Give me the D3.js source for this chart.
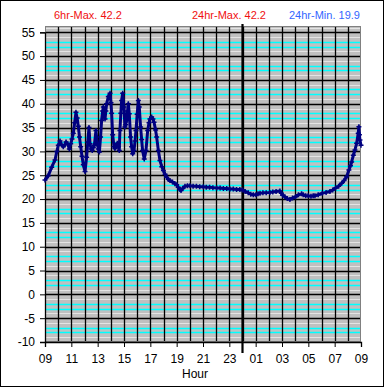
<!DOCTYPE html>
<html lang="en">
<head>
  <meta charset="UTF-8">
  <title>24 Hour Temperature</title>
  <style>
    body {
      margin: 0;
      background: #fff;
      font-family: Arial, "Liberation Sans", sans-serif;
    }
    svg {
      display: block;
    }
  </style>
  <script src="https://d3js.org/d3.v7.min.js"></script>
</head>
<body>

<svg width="385" height="388"></svg>

<script>
  // hours since 09:00 and the reading at that moment
  const hoursFromStart = [
    0.00, 0.25, 0.51, 0.76, 0.90, 1.01, 1.14, 1.26, 1.39, 1.50, 1.60, 1.73, 1.85, 1.95,
    2.05, 2.15, 2.25, 2.35, 2.44, 2.53, 2.62, 2.71, 2.81, 2.91, 3.04, 3.16, 3.25, 3.34,
    3.42, 3.50, 3.59, 3.67, 3.75, 3.87, 3.97, 4.05, 4.13, 4.22, 4.30, 4.38, 4.43, 4.50,
    4.56, 4.62, 4.68, 4.81, 4.94, 5.01, 5.06, 5.14, 5.24, 5.31, 5.40, 5.49, 5.57, 5.64,
    5.69, 5.76, 5.82, 5.90, 6.00, 6.07, 6.13, 6.20, 6.27, 6.33, 6.40, 6.50, 6.58, 6.66,
    6.76, 6.84, 6.91, 7.00, 7.09, 7.16, 7.26, 7.34, 7.41, 7.54, 7.67, 7.80, 7.90, 7.97,
    8.10, 8.20, 8.28, 8.40, 8.48, 8.61, 8.73, 8.87, 8.99, 9.12, 9.24, 9.37, 9.49, 9.68,
    9.87, 10.00, 10.12, 10.25, 10.33, 10.45, 10.63, 10.82, 11.01, 11.25, 11.50, 11.75,
    12.02, 12.25, 12.50, 12.75, 13.04, 13.30, 13.55, 13.80, 14.05, 14.30, 14.55, 14.80,
    15.01, 15.20, 15.44, 15.63, 15.82, 16.02, 16.18, 16.33, 16.55, 16.80, 17.08, 17.30,
    17.55, 17.84, 17.95, 18.05, 18.22, 18.40, 18.60, 18.80, 19.03, 19.25, 19.49, 19.61,
    19.80, 19.99, 20.20, 20.37, 20.50, 20.75, 21.06, 21.35, 21.64, 21.85, 22.07, 22.30,
    22.53, 22.72, 22.91, 23.08, 23.20, 23.29, 23.42, 23.54, 23.67, 23.79, 23.84, 23.88,
    23.92, 24.00
  ];
  const temperature = [
    24.0, 24.9, 26.7, 28.2, 30.0, 31.3, 32.2, 31.4, 31.0, 31.4, 32.0, 31.5, 30.5, 31.6,
    32.6, 33.8, 36.0, 38.2, 37.0, 35.3, 33.0, 31.0, 29.0, 27.2, 25.8, 28.8, 32.0, 35.0,
    31.6, 30.5, 30.2, 30.8, 31.3, 34.4, 31.6, 30.5, 29.9, 33.0, 36.5, 38.5, 39.3, 38.0,
    36.8, 38.5, 40.0, 41.5, 42.2, 40.2, 38.0, 33.5, 31.0, 30.6, 31.2, 31.7, 31.0, 30.2,
    34.4, 38.0, 40.7, 42.2, 39.3, 35.1, 35.6, 36.5, 38.5, 40.0, 37.9, 33.0, 31.0, 29.5,
    30.2, 32.2, 34.4, 37.8, 40.7, 39.3, 35.1, 32.5, 30.2, 28.4, 30.2, 34.4, 36.0, 36.8,
    37.2, 36.8, 36.1, 34.5, 33.0, 30.2, 28.1, 26.8, 26.0, 25.2, 24.6, 24.1, 23.9, 23.6,
    23.2, 23.0, 22.5, 22.0, 21.8, 22.2, 22.7, 22.8, 22.8, 22.7, 22.7, 22.6,
    22.6, 22.5, 22.5, 22.4, 22.3, 22.3, 22.2, 22.2, 22.1, 22.1, 22.0, 22.0,
    21.9, 21.6, 21.3, 21.0, 20.9, 20.9, 21.1, 21.2, 21.3, 21.3, 21.4, 21.5,
    21.6, 21.7, 21.2, 20.8, 20.5, 20.1, 19.9, 20.2, 20.5, 20.9, 21.1, 20.9,
    20.7, 20.7, 20.6, 20.7, 20.7, 20.9, 21.2, 21.4, 21.6, 21.9, 22.3, 22.7,
    23.3, 23.9, 24.7, 26.1, 27.0, 27.8, 29.2, 30.3, 31.7, 33.8, 35.2, 33.5,
    32.4, 31.3
  ];

  const hourTicks = [0, 2, 4, 6, 8, 10, 12, 14, 16, 18, 20, 22, 24];
  const hourLabels = ["09", "11", "13", "15", "17", "19", "21", "23", "01", "03", "05", "07", "09"];
  const yTicks = [-10, -5, 0, 5, 10, 15, 20, 25, 30, 35, 40, 45, 50, 55];
  const midnight = 15;

  const headers = [
    { text: "6hr-Max. 42.2", color: "#f01010", x: 54 },
    { text: "24hr-Max. 42.2", color: "#f01010", x: 192 },
    { text: "24hr-Min. 19.9", color: "#3366ff", x: 289 }
  ];

  const svg = d3.select("svg"),
        width = +svg.attr("width"),
        height = +svg.attr("height");

  const plot = { left: 45, right: 361, top: 26, bottom: 342 };

  const x = d3.scaleLinear().domain([0, 24]).range([plot.left, plot.right]);
  const y = d3.scaleLinear().domain([-10, 55]).range([plot.bottom, 32.3]);

  // outer frame
  svg.append("rect")
    .attr("x", 0.5).attr("y", 0.5)
    .attr("width", width - 2).attr("height", height - 2)
    .attr("fill", "#fff")
    .attr("stroke", "#000");

  // plot background
  svg.append("rect")
    .attr("x", plot.left).attr("y", plot.top)
    .attr("width", plot.right - plot.left).attr("height", plot.bottom - plot.top)
    .attr("fill", "#c0c0c0");

  // minor horizontal lines, one per unit (pattern: light, cyan, cyan, light)
  const grid = svg.append("g");
  for (let v = -9; v <= 56; v++) {
    const m = ((v % 5) + 5) % 5;
    if (m === 0) continue;
    const cyan = (m === 2 || m === 3);
    if (y(v) < plot.top) continue;
    grid.append("line")
      .attr("x1", plot.left).attr("x2", plot.right)
      .attr("y1", Math.round(y(v)) + 0.5).attr("y2", Math.round(y(v)) + 0.5)
      .attr("stroke", cyan ? "#00ffff" : "#e4e4e4")
      .attr("stroke-width", cyan ? 1.6 : 1);
  }

  // major horizontal lines
  grid.selectAll(".hmajor")
    .data(yTicks.slice(1))
    .enter().append("line")
      .attr("x1", plot.left).attr("x2", plot.right)
      .attr("y1", d => Math.round(y(d)) + 0.5).attr("y2", d => Math.round(y(d)) + 0.5)
      .attr("stroke", "#000")
      .attr("stroke-width", 1.3);

  // vertical hour lines
  grid.selectAll(".vline")
    .data(d3.range(1, 24))
    .enter().append("line")
      .attr("x1", d => Math.round(x(d)) + 0.5).attr("x2", d => Math.round(x(d)) + 0.5)
      .attr("y1", plot.top).attr("y2", plot.bottom)
      .attr("stroke", "#000")
      .attr("stroke-width", 1.3);

  // plot border
  svg.append("rect")
    .attr("x", plot.left + 0.5).attr("y", plot.top + 0.5)
    .attr("width", plot.right - plot.left - 1).attr("height", plot.bottom - plot.top - 1)
    .attr("fill", "none")
    .attr("stroke", "#808080");

  // axes
  const yAxis = d3.axisLeft(y).tickValues(yTicks).tickSize(5).tickPadding(5).tickFormat(d => d);
  svg.append("g")
    .attr("transform", `translate(${plot.left},0)`)
    .call(yAxis)
    .call(g => g.select(".domain").attr("stroke-width", 1.3))
    .call(g => g.selectAll("text").attr("font-size", 12).attr("font-family", "Arial, sans-serif").attr("fill", "#000"));

  const xAxis = d3.axisBottom(x).tickValues(hourTicks).tickSize(5).tickPadding(7)
    .tickFormat((d, i) => hourLabels[i]);
  svg.append("g")
    .attr("transform", `translate(0,${plot.bottom})`)
    .call(xAxis)
    .call(g => g.select(".domain").attr("stroke-width", 1.3))
    .call(g => g.selectAll("text").attr("font-size", 12).attr("font-family", "Arial, sans-serif").attr("fill", "#000"));

  svg.append("text")
    .attr("x", 195).attr("y", 378)
    .attr("text-anchor", "middle")
    .attr("font-size", 12)
    .text("Hour");

  // midnight marker
  svg.append("line")
    .attr("x1", x(midnight)).attr("x2", x(midnight))
    .attr("y1", 24).attr("y2", 353)
    .attr("stroke", "#000")
    .attr("stroke-width", 2.2);

  // series
  const points = hoursFromStart.map((h, i) => ({ h: h, v: temperature[i] }));

  const line = d3.line()
    .x(d => x(d.h))
    .y(d => y(d.v));

  svg.append("path")
    .datum(points)
    .attr("d", line)
    .attr("fill", "none")
    .attr("stroke", "#000080")
    .attr("stroke-width", 3)
    .attr("stroke-linejoin", "round");

  svg.append("g")
    .selectAll("path")
    .data(points)
    .enter().append("path")
      .attr("transform", d => `translate(${x(d.h)},${y(d.v)})`)
      .attr("d", "M-2.5,0H2.5M0,-2.5V2.5")
      .attr("stroke", "#000080")
      .attr("stroke-width", 1.5);

  // header texts
  svg.selectAll(".hdr")
    .data(headers)
    .enter().append("text")
      .attr("x", d => d.x).attr("y", 19)
      .attr("font-size", 11)
      .attr("fill", d => d.color)
      .text(d => d.text);
</script>

</body>
</html>
